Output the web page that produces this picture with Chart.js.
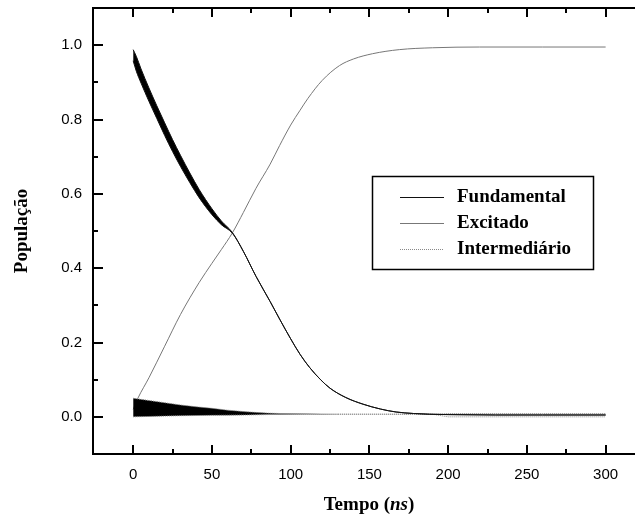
<!DOCTYPE html>
<html>
<head>
<meta charset="utf-8">
<script src="https://cdn.jsdelivr.net/npm/chart.js@4/dist/chart.umd.min.js"></script>
<style>
    html, body { margin: 0; padding: 0; background: #fff; width: 635px; height: 517px; overflow: hidden; }
    #popChart { display: block; }
</style>
</head>
<body>
<canvas id="popChart" width="660" height="517"></canvas>
<script>
// nomes das curvas
const seriesNames = ['Fundamental', 'Excitado', 'Intermediário'];

// Fundamental: envelope superior/inferior da oscilação (ns)
const tFund = [0, 2, 5, 10, 15, 20, 25, 30, 36, 42, 50, 56, 63, 70, 78, 87, 93, 100, 106, 112, 119, 125, 135, 146, 157, 167, 178, 188, 200, 230, 260, 300];
const fundHi = [0.988, 0.97, 0.936, 0.885, 0.837, 0.791, 0.746, 0.704, 0.656, 0.611, 0.560, 0.527, 0.496, 0.445, 0.378, 0.31, 0.263, 0.21, 0.168, 0.133, 0.1, 0.077, 0.052, 0.034, 0.021, 0.013, 0.009, 0.007, 0.006, 0.005, 0.005, 0.005];
const fundLo = [0.958, 0.93, 0.898, 0.849, 0.803, 0.757, 0.714, 0.674, 0.630, 0.589, 0.544, 0.517, 0.494, 0.445, 0.378, 0.31, 0.263, 0.21, 0.168, 0.133, 0.1, 0.077, 0.052, 0.034, 0.021, 0.013, 0.009, 0.007, 0.006, 0.005, 0.005, 0.005];

// Excitado
const tExc = [0, 3, 10, 20, 30, 42, 50, 56, 63, 70, 78, 87, 93, 100, 106, 111, 120, 131, 140, 152, 169, 190, 220, 260, 300];
const excPop = [0.02, 0.05, 0.105, 0.19, 0.275, 0.362, 0.413, 0.45, 0.495, 0.55, 0.615, 0.68, 0.73, 0.785, 0.825, 0.857, 0.905, 0.945, 0.963, 0.977, 0.988, 0.993, 0.995, 0.995, 0.995];

// Intermediário: envelope da oscilação
const tInt = [0, 10, 20, 30, 40, 50, 60, 72, 85, 93, 110, 130, 160, 190, 200, 230, 260, 300];
const intHi = [0.05, 0.044, 0.038, 0.032, 0.027, 0.023, 0.018, 0.0135, 0.01, 0.009, 0.008, 0.007, 0.007, 0.007, 0.009, 0.009, 0.009, 0.009];
const intLo = [0.0, 0.001, 0.002, 0.003, 0.0035, 0.004, 0.0045, 0.005, 0.006, 0.0065, 0.007, 0.007, 0.007, 0.007, 0.0, 0.0, 0.0, 0.0];

// eixos
const xTicks = [0, 50, 100, 150, 200, 250, 300];
const xMinor = [25, 75, 125, 175, 225, 275];
const yTicks = [0.0, 0.2, 0.4, 0.6, 0.8, 1.0];
const yMinor = [0.1, 0.3, 0.5, 0.7, 0.9];

const serifFont = '"Liberation Serif", "Times New Roman", serif';
const sansFont = '"Liberation Sans", Arial, sans-serif';

const colors = { fund: '#111', exc: '#777', int: '#888' };

function pts(t, v) {
    return t.map((x, i) => ({ x: x, y: v[i] }));
}

// tiques voltados para dentro + borda superior
const innerTicks = {
    id: 'innerTicks',
    afterDraw(chart) {
        const { ctx, chartArea: a, scales: { x, y } } = chart;
        ctx.save();
        ctx.strokeStyle = '#000';
        ctx.lineWidth = 2;
        ctx.beginPath();
        ctx.moveTo(a.left - 1, a.top);
        ctx.lineTo(a.right, a.top);
        ctx.stroke();
        const tickX = (vals, len) => {
            vals.forEach((v) => {
                const px = Math.round(x.getPixelForValue(v));
                ctx.moveTo(px, a.bottom);
                ctx.lineTo(px, a.bottom - len);
                ctx.moveTo(px, a.top);
                ctx.lineTo(px, a.top + len);
            });
        };
        const tickY = (vals, len) => {
            vals.forEach((v) => {
                const py = Math.round(y.getPixelForValue(v));
                ctx.moveTo(a.left, py);
                ctx.lineTo(a.left + len, py);
                ctx.moveTo(a.right, py);
                ctx.lineTo(a.right - len, py);
            });
        };
        ctx.beginPath();
        tickX(xTicks, 9);
        tickX(xMinor, 5);
        tickY(yTicks, 10);
        tickY(yMinor, 5);
        ctx.stroke();
        ctx.restore();
    },
};

// título do eixo x com "ns" em itálico
const xTitle = {
    id: 'xTitle',
    afterDraw(chart) {
        const { ctx, chartArea: a } = chart;
        const parts = [
            { s: 'Tempo (', f: 'bold 19px ' + serifFont },
            { s: 'ns', f: 'italic bold 19px ' + serifFont },
            { s: ')', f: 'bold 19px ' + serifFont },
        ];
        ctx.save();
        let w = 0;
        parts.forEach((p) => { ctx.font = p.f; p.w = ctx.measureText(p.s).width; w += p.w; });
        let cx = (a.left + a.right) / 2 - w / 2;
        ctx.fillStyle = '#000';
        ctx.textBaseline = 'middle';
        parts.forEach((p) => { ctx.font = p.f; ctx.fillText(p.s, cx, 505); cx += p.w; });
        ctx.restore();
    },
};

// legenda dentro da área do gráfico
const legendBox = {
    id: 'legendBox',
    afterDraw(chart) {
        const ctx = chart.ctx;
        const items = [
            { name: seriesNames[0], color: colors.fund, dash: [] },
            { name: seriesNames[1], color: colors.exc, dash: [] },
            { name: seriesNames[2], color: colors.int, dash: [1, 1] },
        ];
        ctx.save();
        ctx.fillStyle = '#fff';
        ctx.fillRect(372, 176, 222, 94);
        ctx.strokeStyle = '#000';
        ctx.lineWidth = 1.5;
        ctx.strokeRect(372.5, 176.5, 221, 93);
        ctx.font = 'bold 19px ' + serifFont;
        ctx.textBaseline = 'middle';
        items.forEach((item, i) => {
            const yy = 197 + i * 26;
            ctx.strokeStyle = item.color;
            ctx.lineWidth = 1;
            ctx.setLineDash(item.dash);
            ctx.beginPath();
            ctx.moveTo(400, yy + 0.5);
            ctx.lineTo(444, yy + 0.5);
            ctx.stroke();
            ctx.setLineDash([]);
            ctx.fillStyle = '#000';
            ctx.fillText(item.name, 457, yy);
        });
        ctx.restore();
    },
};

const lineBase = { pointRadius: 0, borderWidth: 1, cubicInterpolationMode: 'monotone' };

new Chart(document.getElementById('popChart').getContext('2d'), {
    type: 'line',
    data: {
        datasets: [
            { ...lineBase, label: seriesNames[0], data: pts(tFund, fundHi), borderColor: colors.fund, fill: false },
            { ...lineBase, label: seriesNames[0], data: pts(tFund, fundLo), borderColor: colors.fund, backgroundColor: '#000', fill: '-1' },
            { ...lineBase, label: seriesNames[2], data: pts(tInt, intHi), borderColor: colors.int, borderDash: [1, 1], fill: false, cubicInterpolationMode: 'default', tension: 0 },
            {
                ...lineBase, label: seriesNames[2], data: pts(tInt, intLo), borderColor: colors.int, borderDash: [1, 1],
                backgroundColor: '#000', fill: '-1', cubicInterpolationMode: 'default', tension: 0,
                segment: { backgroundColor: (c) => (c.p0.parsed.x >= 130 ? 'rgba(0,0,0,0)' : '#000') },
            },
            { ...lineBase, label: seriesNames[1], data: pts(tExc, excPop), borderColor: colors.exc, fill: false },
        ],
    },
    options: {
        responsive: false,
        animation: false,
        layout: { padding: { top: 8, right: 15, left: 0, bottom: 0 } },
        plugins: { legend: { display: false }, tooltip: { enabled: false } },
        scales: {
            x: {
                type: 'linear',
                min: -25.5,
                max: 325,
                afterFit: (s) => { s.height = 63; s.paddingLeft = 0; s.paddingRight = 0; },
                afterBuildTicks: (s) => { s.ticks = xTicks.map((v) => ({ value: v })); },
                grid: { display: false, drawTicks: false },
                border: { display: true, width: 2, color: '#000' },
                ticks: { color: '#000', padding: 12, maxRotation: 0, font: { family: sansFont, size: 15 } },
            },
            y: {
                type: 'linear',
                min: -0.1,
                max: 1.1,
                afterFit: (s) => { s.width = 93; s.paddingTop = 0; s.paddingBottom = 0; },
                afterBuildTicks: (s) => { s.ticks = yTicks.map((v) => ({ value: v })); },
                grid: { display: false, drawTicks: false },
                border: { display: true, width: 2, color: '#000' },
                ticks: { color: '#000', padding: 11, font: { family: sansFont, size: 15 }, callback: (v) => Number(v).toFixed(1) },
                title: { display: true, text: 'População', color: '#000', padding: { top: 10.5, bottom: 0 }, font: { family: serifFont, size: 19, weight: 'bold' } },
            },
        },
    },
    plugins: [innerTicks, xTitle, legendBox],
});
</script>
</body>
</html>
